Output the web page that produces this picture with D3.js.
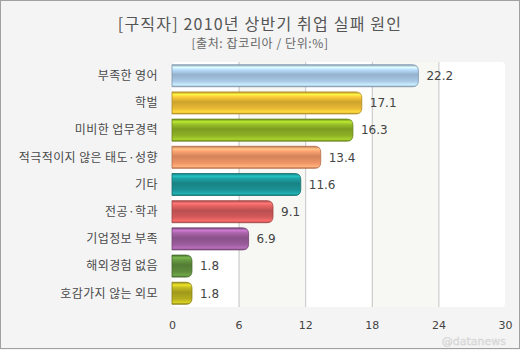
<!DOCTYPE html>
<html>
<head>
<meta charset="utf-8">
<script src="https://cdn.jsdelivr.net/npm/d3@7"></script>
<style>
  html, body { margin: 0; padding: 0; background: #f4f4f4; }
  svg { display: block; font-family: "Noto Sans CJK KR", "DejaVu Sans", sans-serif; }
  .cat { font-size: 12px; fill: #4a4a4a; letter-spacing: 0.4px; }
  .val { font-family: Verdana, "DejaVu Sans", sans-serif; font-size: 12px; fill: #444; }
  .tick text { font-family: Verdana, "DejaVu Sans", sans-serif; font-size: 11px; fill: #444; }
</style>
</head>
<body>
<svg width="520" height="350"></svg>
<script>
// chart data
const categories = ['부족한 영어', '학벌', '미비한 업무경력', '적극적이지 않은 태도·성향', '기타',
    '전공·학과', '기업정보 부족', '해외경험 없음', '호감가지 않는 외모'];
const values = [22.2, 17.1, 16.3, 13.4, 11.6, 9.1, 6.9, 1.8, 1.8];
const barColors = ['#a9c9e6', '#e9b934', '#8db125', '#ef9466', '#1b9395',
    '#d35a5a', '#9b5c9c', '#5e8c3c', '#b5ad1f'];
const ticks = [0, 6, 12, 18, 24, 30];

const width = 520, height = 350;
const margin = { top: 62, right: 15, bottom: 43, left: 172 };
const plotW = width - margin.left - margin.right;
const plotH = height - margin.top - margin.bottom;

const svg = d3.select('svg');

// frame
svg.append('rect')
    .attr('x', 0.5).attr('y', 0.5)
    .attr('width', width - 1).attr('height', height - 2)
    .attr('fill', '#f4f4f4').attr('stroke', '#a0a0a0');

svg.append('text')
    .attr('x', 260).attr('y', 30)
    .attr('text-anchor', 'middle')
    .attr('font-size', 16).attr('fill', '#555')
    .attr('letter-spacing', 1.2)
    .text('[구직자] 2010년 상반기 취업 실패 원인');

svg.append('text')
    .attr('x', 260).attr('y', 48)
    .attr('text-anchor', 'middle')
    .attr('font-size', 12).attr('fill', '#666')
    .attr('letter-spacing', 0.6)
    .text('[출처: 잡코리아 / 단위:%]');

const x = d3.scaleLinear().domain([0, 30]).range([0, plotW]);
const y = d3.scaleBand().domain(categories).range([0, plotH]).paddingInner(0.19).paddingOuter(0.1);

const g = svg.append('g').attr('transform', `translate(${margin.left},${margin.top})`);

// background bands
const defs = svg.append('defs');
defs.append('clipPath').attr('id', 'plotclip')
    .append('rect').attr('width', plotW).attr('height', plotH).attr('rx', 4);

const bands = g.append('g').attr('clip-path', 'url(#plotclip)');
bands.selectAll('rect')
    .data(ticks.slice(0, -1))
    .join('rect')
    .attr('x', d => x(d))
    .attr('width', d => x(d + 6) - x(d))
    .attr('height', plotH)
    .attr('fill', (d, i) => i % 2 ? '#f7f7f3' : '#ffffff');

// grid lines
g.append('g').selectAll('line')
    .data(ticks.slice(1, -1))
    .join('line')
    .attr('x1', d => x(d) + 0.5).attr('x2', d => x(d) + 0.5)
    .attr('y1', 0).attr('y2', plotH)
    .attr('stroke', '#c4c4c4');

// axis labels
const axis = g.append('g')
    .attr('transform', `translate(0,${plotH})`)
    .call(d3.axisBottom(x).tickValues(ticks).tickSize(0).tickPadding(14));
axis.select('.domain').remove();

// glossy gradients per bar
barColors.forEach((c, i) => {
    const base = d3.color(c);
    const grad = defs.append('linearGradient')
        .attr('id', 'grad' + i)
        .attr('x1', 0).attr('y1', 0).attr('x2', 0).attr('y2', 1);
    grad.append('stop').attr('offset', '0%').attr('stop-color', base.darker(0.6));
    grad.append('stop').attr('offset', '12%').attr('stop-color', base.brighter(0.8));
    grad.append('stop').attr('offset', '22%').attr('stop-color', base.brighter(0.3));
    grad.append('stop').attr('offset', '45%').attr('stop-color', base.darker(0.35));
    grad.append('stop').attr('offset', '75%').attr('stop-color', base);
    grad.append('stop').attr('offset', '92%').attr('stop-color', base.brighter(0.5));
    grad.append('stop').attr('offset', '100%').attr('stop-color', base.darker(0.7));
});

const rows = g.selectAll('.row')
    .data(categories)
    .join('g')
    .attr('class', 'row');

// bar: square left end, rounded right end
rows.append('path')
    .attr('d', (d, i) => {
        const w = x(values[i]), h = y.bandwidth(), t = y(d);
        const r = Math.min(6, w / 2);
        return `M0,${t}H${w - r}Q${w},${t} ${w},${t + r}V${t + h - r}Q${w},${t + h} ${w - r},${t + h}H0Z`;
    })
    .attr('fill', (d, i) => `url(#grad${i})`)
    .attr('stroke', (d, i) => d3.color(barColors[i]).darker(0.8))
    .attr('stroke-width', 0.8);

rows.append('text')
    .attr('class', 'val')
    .attr('x', (d, i) => x(values[i]) + 8)
    .attr('y', d => y(d) + y.bandwidth() / 2)
    .attr('dy', '0.36em')
    .text((d, i) => values[i].toFixed(1));

rows.append('text')
    .attr('class', 'cat')
    .attr('x', -14)
    .attr('y', d => y(d) + y.bandwidth() / 2)
    .attr('dy', '0.36em')
    .attr('text-anchor', 'end')
    .text(d => d);

// watermark, kept below the tick labels
svg.append('text')
    .attr('x', 506).attr('y', 345)
    .attr('text-anchor', 'end')
    .attr('font-family', 'Verdana, "DejaVu Sans", sans-serif')
    .attr('font-size', 11)
    .attr('fill', '#e4e4e4')
    .attr('stroke', '#d2d2d2').attr('stroke-width', 0.4)
    .text('@datanews');
</script>
</body>
</html>
